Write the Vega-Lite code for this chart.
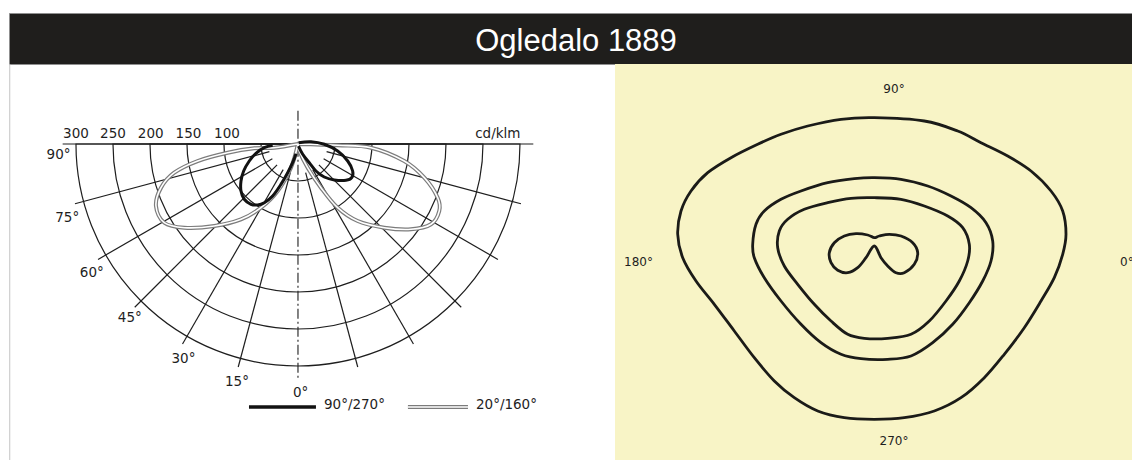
{
  "$schema": "https://vega.github.io/schema/vega-lite/v6.json",
  "background": "white",
  "padding": {"left": 8, "top": 12, "right": 0, "bottom": 0},
  "spacing": 0,
  "bounds": "flush",
  "config": {"view": {"stroke": null}, "concat": {"spacing": 0}},
  "datasets": {
    "dbl": [
      {"s": "DL", "i": 0, "x": 0, "y": 0},
      {"s": "DL", "i": 1, "x": -32.0, "y": -5.0},
      {"s": "DL", "i": 2, "x": -59.1, "y": -5.8},
      {"s": "DL", "i": 3, "x": -95.0, "y": -11.8},
      {"s": "DL", "i": 4, "x": -135.5, "y": -23.0},
      {"s": "DL", "i": 5, "x": -167.2, "y": -38.8},
      {"s": "DL", "i": 6, "x": -185.1, "y": -59.1},
      {"s": "DL", "i": 7, "x": -191.9, "y": -83.8},
      {"s": "DL", "i": 8, "x": -180.7, "y": -106.4},
      {"s": "DL", "i": 9, "x": -153.6, "y": -113.1},
      {"s": "DL", "i": 10, "x": -113.1, "y": -110.8},
      {"s": "DL", "i": 11, "x": -77.0, "y": -101.8},
      {"s": "DL", "i": 12, "x": -50.0, "y": -86.1},
      {"s": "DL", "i": 13, "x": -27.4, "y": -63.5},
      {"s": "DL", "i": 14, "x": -9.5, "y": -32.0},
      {"s": "DL", "i": 15, "x": 0, "y": 0},
      {"s": "DR", "i": 0, "x": 0, "y": 0},
      {"s": "DR", "i": 1, "x": 53.6, "y": -1.8},
      {"s": "DR", "i": 2, "x": 98.6, "y": -5.0},
      {"s": "DR", "i": 3, "x": 143.6, "y": -23.0},
      {"s": "DR", "i": 4, "x": 170.7, "y": -45.5},
      {"s": "DR", "i": 5, "x": 188.8, "y": -72.6},
      {"s": "DR", "i": 6, "x": 190.9, "y": -90.5},
      {"s": "DR", "i": 7, "x": 179.7, "y": -108.5},
      {"s": "DR", "i": 8, "x": 152.7, "y": -115.3},
      {"s": "DR", "i": 9, "x": 116.6, "y": -113.1},
      {"s": "DR", "i": 10, "x": 80.7, "y": -104.1},
      {"s": "DR", "i": 11, "x": 53.6, "y": -86.1},
      {"s": "DR", "i": 12, "x": 31.1, "y": -59.1},
      {"s": "DR", "i": 13, "x": 13.1, "y": -32.0},
      {"s": "DR", "i": 14, "x": 1.8, "y": -9.5},
      {"s": "DR", "i": 15, "x": 0, "y": 0}
    ],
    "legdbl": [
      {"x": 148.6, "y": -355.4, "x2": 229.7, "y2": -355.4}
    ]
  },
  "vconcat": [
    {
      "width": 1124,
      "height": 51,
      "view": {"fill": "#1f1e1c", "stroke": "#8f8f8f", "strokeWidth": 1},
      "data": {"values": [{"t": "Ogledalo 1889"}]},
      "mark": {"type": "text", "color": "#ffffff", "font": "Liberation Sans", "fontSize": 31, "baseline": "middle", "align": "center", "dx": 5, "dy": 3},
      "encoding": {"text": {"field": "t", "type": "nominal"}}
    },
    {
      "hconcat": [
        {
          "width": 606,
          "height": 397,
          "view": {"stroke": null},
          "encoding": {
            "x": {"field": "x", "type": "quantitative", "scale": {"domain": [-390.5, 428.4], "nice": false, "zero": false}, "axis": null},
            "y": {"field": "y", "type": "quantitative", "scale": {"domain": [-428.4, 108.1], "nice": false, "zero": false}, "axis": null}
          },
          "layer": [
            {
              "data": {"values": [{"x": -389.5, "y": 108.1, "x2": -389.5, "y2": -428.4}]},
              "mark": {"type": "rule", "stroke": "#c4c4c4", "strokeWidth": 1},
              "encoding": {"x2": {"field": "x2"}, "y2": {"field": "y2"}}
            },
            {
              "data": {"values": [
                {"x": 0, "y": 0, "r": 50},
                {"x": 0, "y": 0, "r": 100},
                {"x": 0, "y": 0, "r": 150},
                {"x": 0, "y": 0, "r": 200},
                {"x": 0, "y": 0, "r": 250},
                {"x": 0, "y": 0, "r": 300}
              ]},
              "mark": {"type": "arc", "filled": false, "stroke": "#1e1e1e", "strokeWidth": 1.2, "theta": 1.5708, "theta2": 4.7124},
              "encoding": {"radius": {"field": "r", "type": "quantitative", "stack": null, "scale": {"type": "linear", "domain": [0, 300], "range": [0, 222], "zero": true}}}
            },
            {
              "data": {"values": [
                {"x": -10.35, "y": -38.64, "x2": -80.75, "y2": -301.36},
                {"x": -20.0, "y": -34.64, "x2": -156.0, "y2": -270.19},
                {"x": -28.28, "y": -28.28, "x2": -220.62, "y2": -220.62},
                {"x": -34.64, "y": -20.0, "x2": -270.19, "y2": -156.0},
                {"x": -38.64, "y": -10.35, "x2": -301.36, "y2": -80.75},
                {"x": 10.35, "y": -38.64, "x2": 80.75, "y2": -301.36},
                {"x": 20.0, "y": -34.64, "x2": 156.0, "y2": -270.19},
                {"x": 28.28, "y": -28.28, "x2": 220.62, "y2": -220.62},
                {"x": 34.64, "y": -20.0, "x2": 270.19, "y2": -156.0},
                {"x": 38.64, "y": -10.35, "x2": 301.36, "y2": -80.75},
                {"x": -318, "y": 0, "x2": 318, "y2": 0}
              ]},
              "mark": {"type": "rule", "stroke": "#1e1e1e", "strokeWidth": 1.2},
              "encoding": {"x2": {"field": "x2"}, "y2": {"field": "y2"}}
            },
            {
              "data": {"values": [{"x": 0, "y": 45, "x2": 0, "y2": -320}]},
              "mark": {"type": "rule", "stroke": "#1e1e1e", "strokeWidth": 1.1, "strokeDash": [10, 3, 2, 3]},
              "encoding": {"x2": {"field": "x2"}, "y2": {"field": "y2"}}
            },
            {
              "data": {"name": "dbl"},
              "mark": {"type": "line", "interpolate": "cardinal", "stroke": "#7c7c7c", "strokeWidth": 4},
              "encoding": {"detail": {"field": "s"}, "order": {"field": "i", "type": "quantitative"}}
            },
            {
              "data": {"name": "dbl"},
              "mark": {"type": "line", "interpolate": "cardinal", "stroke": "#ffffff", "strokeWidth": 1.6},
              "encoding": {"detail": {"field": "s"}, "order": {"field": "i", "type": "quantitative"}}
            },
            {
              "data": {"values": [
                {"s": "BL", "i": 0, "x": -34.2, "y": -1.8},
                {"s": "BL", "i": 1, "x": -45.5, "y": -5.0},
                {"s": "BL", "i": 2, "x": -56.8, "y": -12.6},
                {"s": "BL", "i": 3, "x": -65.8, "y": -23.0},
                {"s": "BL", "i": 4, "x": -73.4, "y": -36.5},
                {"s": "BL", "i": 5, "x": -77.0, "y": -50.0},
                {"s": "BL", "i": 6, "x": -77.0, "y": -63.5},
                {"s": "BL", "i": 7, "x": -72.6, "y": -74.7},
                {"s": "BL", "i": 8, "x": -63.5, "y": -81.5},
                {"s": "BL", "i": 9, "x": -54.5, "y": -82.4},
                {"s": "BL", "i": 10, "x": -45.5, "y": -79.3},
                {"s": "BL", "i": 11, "x": -34.2, "y": -70.3},
                {"s": "BL", "i": 12, "x": -23.0, "y": -54.5},
                {"s": "BL", "i": 13, "x": -13.9, "y": -38.8},
                {"s": "BL", "i": 14, "x": -7.2, "y": -25.3},
                {"s": "BL", "i": 15, "x": -2.7, "y": -13.1},
                {"s": "BR", "i": 0, "x": 0.9, "y": 1.8},
                {"s": "BR", "i": 1, "x": 17.6, "y": 3.1},
                {"s": "BR", "i": 2, "x": 35.5, "y": -0.4},
                {"s": "BR", "i": 3, "x": 53.6, "y": -9.5},
                {"s": "BR", "i": 4, "x": 67.2, "y": -23.0},
                {"s": "BR", "i": 5, "x": 73.9, "y": -36.5},
                {"s": "BR", "i": 6, "x": 72.6, "y": -45.5},
                {"s": "BR", "i": 7, "x": 64.9, "y": -49.1},
                {"s": "BR", "i": 8, "x": 49.1, "y": -48.6},
                {"s": "BR", "i": 9, "x": 35.5, "y": -44.6},
                {"s": "BR", "i": 10, "x": 24.3, "y": -36.5},
                {"s": "BR", "i": 11, "x": 15.3, "y": -25.3},
                {"s": "BR", "i": 12, "x": 6.4, "y": -13.9},
                {"s": "BR", "i": 13, "x": 0.6, "y": -3.0}
              ]},
              "mark": {"type": "line", "interpolate": "cardinal", "stroke": "#121212", "strokeWidth": 3},
              "encoding": {"detail": {"field": "s"}, "order": {"field": "i", "type": "quantitative"}}
            },
            {
              "data": {"values": [
                {"x": -300, "y": 7.5, "t": "300"},
                {"x": -250, "y": 7.5, "t": "250"},
                {"x": -199, "y": 7.5, "t": "200"},
                {"x": -148, "y": 7.5, "t": "150"},
                {"x": -96, "y": 7.5, "t": "100"},
                {"x": 270, "y": 7.5, "t": "cd/klm"}
              ]},
              "mark": {"type": "text", "font": "DejaVu Sans", "fontSize": 13.5, "color": "#1e1e1e", "align": "center", "baseline": "alphabetic"},
              "encoding": {"text": {"field": "t", "type": "nominal"}}
            },
            {
              "data": {"values": [
                {"x": -323.6, "y": -14.9, "t": "90°"},
                {"x": -311.8, "y": -99.5, "t": "75°"},
                {"x": -278.6, "y": -174.3, "t": "60°"},
                {"x": -227.3, "y": -235.8, "t": "45°"},
                {"x": -154.7, "y": -289.9, "t": "30°"},
                {"x": -82.4, "y": -321.6, "t": "15°"},
                {"x": 3.6, "y": -336.5, "t": "0°"}
              ]},
              "mark": {"type": "text", "font": "DejaVu Sans", "fontSize": 13.5, "color": "#1e1e1e", "align": "center", "baseline": "middle"},
              "encoding": {"text": {"field": "t", "type": "nominal"}}
            },
            {
              "data": {"values": [{"x": -66.2, "y": -355.4, "x2": 24.3, "y2": -355.4}]},
              "mark": {"type": "rule", "stroke": "#121212", "strokeWidth": 3.5},
              "encoding": {"x2": {"field": "x2"}, "y2": {"field": "y2"}}
            },
            {
              "data": {"name": "legdbl"},
              "mark": {"type": "rule", "stroke": "#7c7c7c", "strokeWidth": 4},
              "encoding": {"x2": {"field": "x2"}, "y2": {"field": "y2"}}
            },
            {
              "data": {"name": "legdbl"},
              "mark": {"type": "rule", "stroke": "#ffffff", "strokeWidth": 1.6},
              "encoding": {"x2": {"field": "x2"}, "y2": {"field": "y2"}}
            },
            {
              "data": {"values": [
                {"x": 35.1, "y": -353, "t": "90°/270°"},
                {"x": 240.5, "y": -353, "t": "20°/160°"}
              ]},
              "mark": {"type": "text", "font": "DejaVu Sans", "fontSize": 13.5, "color": "#1e1e1e", "align": "left", "baseline": "middle"},
              "encoding": {"text": {"field": "t", "type": "nominal"}}
            }
          ]
        },
        {
          "width": 518,
          "height": 397,
          "view": {"fill": "#f8f4c6", "stroke": null},
          "encoding": {
            "x": {"field": "x", "type": "quantitative", "scale": {"domain": [-25.9, 25.9], "nice": false, "zero": false}, "axis": null},
            "y": {"field": "y", "type": "quantitative", "scale": {"domain": [-20.2, 19.5], "nice": false, "zero": false}, "axis": null}
          },
          "layer": [
            {
              "data": {"values": [
                {"s": "C1", "i": 0, "x": 0.03, "y": 14.13},
                {"s": "C1", "i": 1, "x": 5.03, "y": 13.8},
                {"s": "C1", "i": 2, "x": 8.37, "y": 12.8},
                {"s": "C1", "i": 3, "x": 10.7, "y": 11.63},
                {"s": "C1", "i": 4, "x": 13.37, "y": 10.3},
                {"s": "C1", "i": 5, "x": 15.7, "y": 8.8},
                {"s": "C1", "i": 6, "x": 17.7, "y": 6.8},
                {"s": "C1", "i": 7, "x": 18.87, "y": 4.8},
                {"s": "C1", "i": 8, "x": 19.2, "y": 2.47},
                {"s": "C1", "i": 9, "x": 18.87, "y": 0.47},
                {"s": "C1", "i": 10, "x": 18.03, "y": -1.87},
                {"s": "C1", "i": 11, "x": 16.7, "y": -4.2},
                {"s": "C1", "i": 12, "x": 15.03, "y": -6.87},
                {"s": "C1", "i": 13, "x": 13.03, "y": -9.53},
                {"s": "C1", "i": 14, "x": 11.03, "y": -11.87},
                {"s": "C1", "i": 15, "x": 8.7, "y": -13.87},
                {"s": "C1", "i": 16, "x": 6.03, "y": -15.2},
                {"s": "C1", "i": 17, "x": 3.03, "y": -15.87},
                {"s": "C1", "i": 18, "x": 0.03, "y": -16.03},
                {"s": "C1", "i": 19, "x": -2.97, "y": -15.87},
                {"s": "C1", "i": 20, "x": -5.63, "y": -15.2},
                {"s": "C1", "i": 21, "x": -7.97, "y": -13.87},
                {"s": "C1", "i": 22, "x": -9.97, "y": -12.2},
                {"s": "C1", "i": 23, "x": -11.97, "y": -9.87},
                {"s": "C1", "i": 24, "x": -13.97, "y": -7.2},
                {"s": "C1", "i": 25, "x": -15.97, "y": -4.53},
                {"s": "C1", "i": 26, "x": -17.8, "y": -2.2},
                {"s": "C1", "i": 27, "x": -19.13, "y": 0.13},
                {"s": "C1", "i": 28, "x": -19.63, "y": 2.47},
                {"s": "C1", "i": 29, "x": -19.3, "y": 4.8},
                {"s": "C1", "i": 30, "x": -18.3, "y": 6.8},
                {"s": "C1", "i": 31, "x": -16.63, "y": 8.63},
                {"s": "C1", "i": 32, "x": -14.3, "y": 10.13},
                {"s": "C1", "i": 33, "x": -11.63, "y": 11.47},
                {"s": "C1", "i": 34, "x": -9.3, "y": 12.47},
                {"s": "C1", "i": 35, "x": -6.63, "y": 13.3},
                {"s": "C1", "i": 36, "x": -3.3, "y": 13.97},
                {"s": "C2", "i": 0, "x": -12.13, "y": 1.47},
                {"s": "C2", "i": 1, "x": -11.8, "y": 3.47},
                {"s": "C2", "i": 2, "x": -10.97, "y": 4.8},
                {"s": "C2", "i": 3, "x": -9.3, "y": 5.97},
                {"s": "C2", "i": 4, "x": -7.3, "y": 6.8},
                {"s": "C2", "i": 5, "x": -4.63, "y": 7.63},
                {"s": "C2", "i": 6, "x": -1.97, "y": 8.03},
                {"s": "C2", "i": 7, "x": 0.03, "y": 8.13},
                {"s": "C2", "i": 8, "x": 2.7, "y": 7.97},
                {"s": "C2", "i": 9, "x": 5.37, "y": 7.3},
                {"s": "C2", "i": 10, "x": 7.7, "y": 6.3},
                {"s": "C2", "i": 11, "x": 9.7, "y": 5.13},
                {"s": "C2", "i": 12, "x": 11.2, "y": 3.63},
                {"s": "C2", "i": 13, "x": 11.87, "y": 1.8},
                {"s": "C2", "i": 14, "x": 11.7, "y": -0.2},
                {"s": "C2", "i": 15, "x": 10.87, "y": -2.2},
                {"s": "C2", "i": 16, "x": 9.53, "y": -4.37},
                {"s": "C2", "i": 17, "x": 7.87, "y": -6.53},
                {"s": "C2", "i": 18, "x": 5.87, "y": -8.37},
                {"s": "C2", "i": 19, "x": 3.7, "y": -9.7},
                {"s": "C2", "i": 20, "x": 1.37, "y": -10.03},
                {"s": "C2", "i": 21, "x": -1.3, "y": -9.97},
                {"s": "C2", "i": 22, "x": -3.3, "y": -9.53},
                {"s": "C2", "i": 23, "x": -5.3, "y": -8.37},
                {"s": "C2", "i": 24, "x": -7.3, "y": -6.53},
                {"s": "C2", "i": 25, "x": -9.3, "y": -4.2},
                {"s": "C2", "i": 26, "x": -10.97, "y": -1.87},
                {"s": "C2", "i": 27, "x": -11.97, "y": 0.13},
                {"s": "C3", "i": 0, "x": -9.63, "y": 1.13},
                {"s": "C3", "i": 1, "x": -9.47, "y": 2.8},
                {"s": "C3", "i": 2, "x": -8.63, "y": 3.97},
                {"s": "C3", "i": 3, "x": -6.97, "y": 4.97},
                {"s": "C3", "i": 4, "x": -4.63, "y": 5.63},
                {"s": "C3", "i": 5, "x": -2.3, "y": 6.07},
                {"s": "C3", "i": 6, "x": 0.03, "y": 6.13},
                {"s": "C3", "i": 7, "x": 2.7, "y": 5.97},
                {"s": "C3", "i": 8, "x": 5.03, "y": 5.3},
                {"s": "C3", "i": 9, "x": 7.37, "y": 4.3},
                {"s": "C3", "i": 10, "x": 8.87, "y": 3.13},
                {"s": "C3", "i": 11, "x": 9.53, "y": 1.47},
                {"s": "C3", "i": 12, "x": 9.37, "y": -0.2},
                {"s": "C3", "i": 13, "x": 8.53, "y": -2.2},
                {"s": "C3", "i": 14, "x": 7.2, "y": -4.2},
                {"s": "C3", "i": 15, "x": 5.53, "y": -6.2},
                {"s": "C3", "i": 16, "x": 3.7, "y": -7.53},
                {"s": "C3", "i": 17, "x": 1.37, "y": -7.93},
                {"s": "C3", "i": 18, "x": -0.97, "y": -7.93},
                {"s": "C3", "i": 19, "x": -2.63, "y": -7.53},
                {"s": "C3", "i": 20, "x": -4.3, "y": -6.2},
                {"s": "C3", "i": 21, "x": -5.97, "y": -4.53},
                {"s": "C3", "i": 22, "x": -7.63, "y": -2.53},
                {"s": "C3", "i": 23, "x": -8.97, "y": -0.7},
                {"s": "C4", "i": 0, "x": 0.03, "y": 1.3},
                {"s": "C4", "i": 1, "x": 0.7, "y": 0.13},
                {"s": "C4", "i": 2, "x": 1.37, "y": -0.7},
                {"s": "C4", "i": 3, "x": 2.2, "y": -1.37},
                {"s": "C4", "i": 4, "x": 3.03, "y": -1.37},
                {"s": "C4", "i": 5, "x": 4.03, "y": -0.53},
                {"s": "C4", "i": 6, "x": 4.37, "y": 0.63},
                {"s": "C4", "i": 7, "x": 3.87, "y": 1.63},
                {"s": "C4", "i": 8, "x": 2.7, "y": 2.3},
                {"s": "C4", "i": 9, "x": 1.53, "y": 2.47},
                {"s": "C4", "i": 10, "x": 0.53, "y": 2.3},
                {"s": "C4", "i": 11, "x": 0.03, "y": 2.13},
                {"s": "C4", "i": 12, "x": -0.63, "y": 2.4},
                {"s": "C4", "i": 13, "x": -1.8, "y": 2.53},
                {"s": "C4", "i": 14, "x": -2.97, "y": 2.3},
                {"s": "C4", "i": 15, "x": -3.97, "y": 1.63},
                {"s": "C4", "i": 16, "x": -4.47, "y": 0.63},
                {"s": "C4", "i": 17, "x": -4.3, "y": -0.37},
                {"s": "C4", "i": 18, "x": -3.63, "y": -1.13},
                {"s": "C4", "i": 19, "x": -2.63, "y": -1.37},
                {"s": "C4", "i": 20, "x": -1.63, "y": -0.87},
                {"s": "C4", "i": 21, "x": -0.8, "y": 0.13}
              ]},
              "mark": {"type": "line", "interpolate": "cardinal-closed", "stroke": "#1b1b18", "strokeWidth": 2.8},
              "encoding": {"detail": {"field": "s"}, "order": {"field": "i", "type": "quantitative"}}
            },
            {
              "data": {"values": [
                {"x": 2.0, "y": 17.0, "t": "90°"},
                {"x": -23.55, "y": -0.3, "t": "180°"},
                {"x": 2.0, "y": -18.2, "t": "270°"}
              ]},
              "mark": {"type": "text", "font": "DejaVu Sans", "fontSize": 12, "color": "#1e1e1e", "align": "center", "baseline": "middle"},
              "encoding": {"text": {"field": "t", "type": "nominal"}}
            },
            {
              "data": {"values": [{"x": 24.6, "y": -0.3, "t": "0°"}]},
              "mark": {"type": "text", "font": "DejaVu Sans", "fontSize": 12, "color": "#1e1e1e", "align": "left", "baseline": "middle"},
              "encoding": {"text": {"field": "t", "type": "nominal"}}
            }
          ]
        }
      ]
    }
  ]
}
